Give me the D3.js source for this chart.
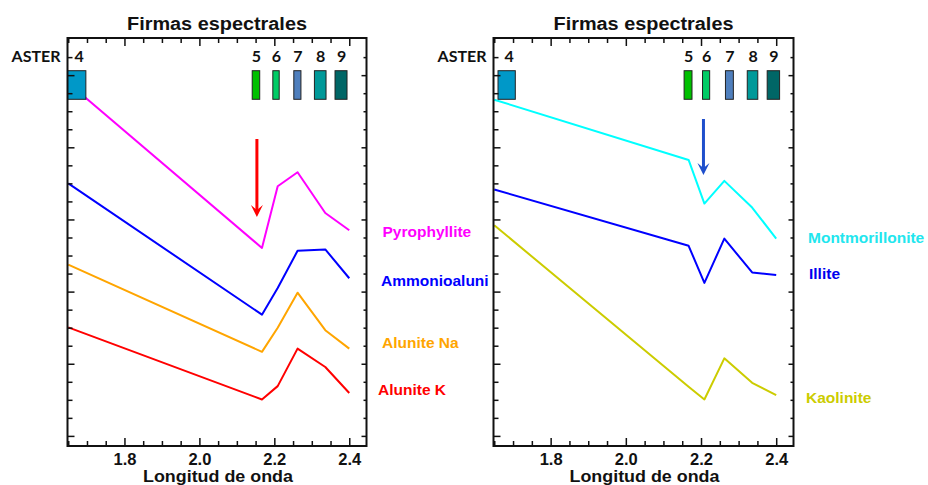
<!DOCTYPE html>
<html>
<head>
<meta charset="utf-8">
<script src="https://cdn.jsdelivr.net/npm/d3@7"></script>
<style>
  html, body { margin: 0; padding: 0; background: #fff; }
  svg { display: block; }
</style>
</head>
<body>
<svg id="chart" width="928" height="485"></svg>
<script>
// ---------------- DATA ----------------
const wavelengths = [1.65, 2.167, 2.209, 2.262, 2.336, 2.400];

const leftSeriesNames = ["Pyrophyllite", "Ammonioaluni", "Alunite Na", "Alunite K"];
const pyrophyllite   = [0.978, 0.521, 0.692, 0.731, 0.618, 0.570];
const ammonioalunite = [0.700, 0.336, 0.410, 0.513, 0.517, 0.437];
const aluniteNa      = [0.475, 0.233, 0.300, 0.397, 0.293, 0.242];
const aluniteK       = [0.301, 0.101, 0.138, 0.242, 0.191, 0.119];

const rightSeriesNames = ["Montmorillonite", "Illite", "Kaolinite"];
const montmorillonite = [0.932, 0.765, 0.644, 0.707, 0.633, 0.547];
const illite          = [0.683, 0.527, 0.424, 0.547, 0.453, 0.446];
const kaolinite       = [0.584, 0.136, 0.101, 0.215, 0.147, 0.113];

// ASTER SWIR bands: name, start µm, end µm
const asterBandNames = ["4", "5", "6", "7", "8", "9"];
const asterLeftStart  = [1.648, 2.141, 2.196, 2.252, 2.307, 2.362];
const asterLeftEnd    = [1.697, 2.161, 2.213, 2.271, 2.338, 2.394];
const asterRightStart = [1.660, 2.155, 2.204, 2.265, 2.323, 2.376];
const asterRightEnd   = [1.706, 2.176, 2.223, 2.286, 2.351, 2.409];

const xTickLabels = [1.8, 2.0, 2.2, 2.4];
const titleText = "Firmas espectrales";
const xTitle = "Longitud de onda";

// ---------------- STYLE ----------------
const leftColors  = ["#ff00ff", "#0000ff", "#ffa500", "#ff0000"];
const rightColors = ["#00ffff", "#0000ff", "#cccc00"];
const rightLabelColors = ["#22e6ee", "#0000ee", "#cccc00"];
const bandColors  = ["#0098c8", "#00c000", "#00cc66", "#4f7fbd", "#009999", "#006666"];

const svg = d3.select("#chart");
const plotTop = 38, plotBottom = 446;
const y = d3.scaleLinear().domain([-0.028, 1.103]).range([plotBottom, plotTop]);

const xDomain = [1.648, 2.446];
const panels = [
  { x0: 67.5, x1: 366.5, series: [pyrophyllite, ammonioalunite, aluniteNa, aluniteK],
    names: leftSeriesNames, colors: leftColors, labelColors: leftColors,
    bandStart: asterLeftStart, bandEnd: asterLeftEnd,
    labelPos: [[382.5, 237], [381, 286], [382, 348], [378, 395]] },
  { x0: 493.5, x1: 793.5, series: [montmorillonite, illite, kaolinite],
    names: rightSeriesNames, colors: rightColors, labelColors: rightLabelColors,
    bandStart: asterRightStart, bandEnd: asterRightEnd,
    labelPos: [[808, 243], [809, 279], [806, 403]] }
];

const majorY = d3.range(0, 1.06, 0.2);
const minorY = d3.range(0, 1.06, 0.05).filter(v => Math.abs(v / 0.2 - Math.round(v / 0.2)) > 1e-6);
const majorX = [1.8, 2.0, 2.2, 2.4];
const minorX = d3.range(1.65, 2.446, 0.05).filter(v => !majorX.some(m => Math.abs(m - v) < 1e-6));

panels.forEach((p, pi) => {
  const x = d3.scaleLinear().domain(xDomain).range([p.x0, p.x1]);
  const g = svg.append("g");

  // Title
  g.append("text")
    .attr("x", (p.x0 + p.x1) / 2).attr("y", 29.5)
    .attr("text-anchor", "middle")
    .attr("font-family", "Liberation Sans, Arial, sans-serif")
    .attr("font-weight", "bold").attr("font-size", 18)
    .attr("textLength", 180).attr("lengthAdjust", "spacingAndGlyphs")
    .attr("fill", "#111")
    .text(titleText);

  // Series lines
  const line = d3.line().x((d, i) => x(wavelengths[i])).y(d => y(d));
  p.series.forEach((s, si) => {
    g.append("path").datum(s)
      .attr("d", line)
      .attr("fill", "none")
      .attr("stroke", p.colors[si])
      .attr("stroke-width", 2)
      .attr("stroke-linejoin", "round");
  });

  // ASTER band boxes
  asterBandNames.forEach((b, bi) => {
    g.append("rect")
      .attr("x", x(p.bandStart[bi])).attr("y", 70.7)
      .attr("width", x(p.bandEnd[bi]) - x(p.bandStart[bi]))
      .attr("height", 28.6)
      .attr("fill", bandColors[bi])
      .attr("stroke", "#222").attr("stroke-width", 1);
    g.append("text")
      .attr("x", (x(p.bandStart[bi]) + x(p.bandEnd[bi])) / 2 + (bi === 0 ? 2.5 : 0.5))
      .attr("y", 62)
      .attr("text-anchor", "middle")
      .attr("font-family", "Lato, sans-serif")
      .attr("font-weight", "bold").attr("font-size", 16)
      .attr("fill", "#111")
      .text(b);
  });
  g.append("text")
    .attr("x", p.x0 - 7).attr("y", 62)
    .attr("text-anchor", "end")
    .attr("font-family", "Lato, sans-serif")
    .attr("font-weight", "bold").attr("font-size", 16)
    .attr("fill", "#111")
    .text("ASTER");

  // Axes (ticks inward)
  const styleAxis = sel => {
    sel.select(".domain").remove();
    sel.selectAll(".tick line").attr("stroke", "#111").attr("stroke-width", 1.5);
  };
  // bottom minor & major
  g.append("g").attr("transform", `translate(0,${plotBottom})`)
    .call(d3.axisBottom(x).tickValues(minorX).tickSize(-5).tickFormat(""))
    .call(styleAxis);
  g.append("g").attr("transform", `translate(0,${plotBottom})`)
    .call(d3.axisBottom(x).tickValues(xTickLabels).tickSize(-8).tickPadding(7.5).tickFormat(d3.format(".1f")))
    .call(styleAxis)
    .call(sel => sel.selectAll("text")
      .attr("font-family", "Liberation Sans, Arial, sans-serif")
      .attr("font-weight", "bold").attr("font-size", 16.5).attr("fill", "#111"));
  // top
  g.append("g").attr("transform", `translate(0,${plotTop})`)
    .call(d3.axisTop(x).tickValues(minorX).tickSize(-5).tickFormat(""))
    .call(styleAxis);
  g.append("g").attr("transform", `translate(0,${plotTop})`)
    .call(d3.axisTop(x).tickValues(majorX).tickSize(-8).tickFormat(""))
    .call(styleAxis);
  // left
  g.append("g").attr("transform", `translate(${p.x0},0)`)
    .call(d3.axisLeft(y).tickValues(minorY).tickSize(-5).tickFormat(""))
    .call(styleAxis);
  g.append("g").attr("transform", `translate(${p.x0},0)`)
    .call(d3.axisLeft(y).tickValues(majorY).tickSize(-7).tickFormat(""))
    .call(styleAxis);
  // right
  g.append("g").attr("transform", `translate(${p.x1},0)`)
    .call(d3.axisRight(y).tickValues(minorY).tickSize(-3).tickFormat(""))
    .call(styleAxis);
  g.append("g").attr("transform", `translate(${p.x1},0)`)
    .call(d3.axisRight(y).tickValues(majorY).tickSize(-5).tickFormat(""))
    .call(styleAxis);

  // Frame
  g.append("rect")
    .attr("x", p.x0).attr("y", plotTop)
    .attr("width", p.x1 - p.x0).attr("height", plotBottom - plotTop)
    .attr("fill", "none").attr("stroke", "#111").attr("stroke-width", 2);

  // X axis title
  g.append("text")
    .attr("x", (p.x0 + p.x1) / 2 + 1).attr("y", 481.5)
    .attr("text-anchor", "middle")
    .attr("font-family", "Liberation Sans, Arial, sans-serif")
    .attr("font-weight", "bold").attr("font-size", 17)
    .attr("textLength", 150).attr("lengthAdjust", "spacingAndGlyphs")
    .attr("fill", "#111")
    .text(xTitle);

  // Series labels
  p.names.forEach((n, ni) => {
    g.append("text")
      .attr("x", p.labelPos[ni][0]).attr("y", p.labelPos[ni][1])
      .attr("font-family", "Liberation Sans, Arial, sans-serif")
      .attr("font-weight", "bold").attr("font-size", 15.5)
      .attr("fill", p.labelColors[ni])
      .text(n);
  });
});

// Arrows marking absorption features
const xl = d3.scaleLinear().domain(xDomain).range([panels[0].x0, panels[0].x1]);
const xr = d3.scaleLinear().domain(xDomain).range([panels[1].x0, panels[1].x1]);

function arrow(xp, y0p, y1p, color) {
  svg.append("line")
    .attr("x1", xp).attr("x2", xp).attr("y1", y0p).attr("y2", y1p - 6)
    .attr("stroke", color).attr("stroke-width", 3);
  const hw = 6, hh = 12;
  const d = `M${xp - hw},${y1p - hh} L${xp},${y1p - hh + 5} L${xp + hw},${y1p - hh} L${xp},${y1p} Z`;
  svg.append("path").attr("d", d).attr("fill", color);
}
arrow(xl(2.1535), 139, 217, "#ff0000");
arrow(xr(2.2065), 119, 175, "#1f4fcc");
</script>
</body>
</html>
